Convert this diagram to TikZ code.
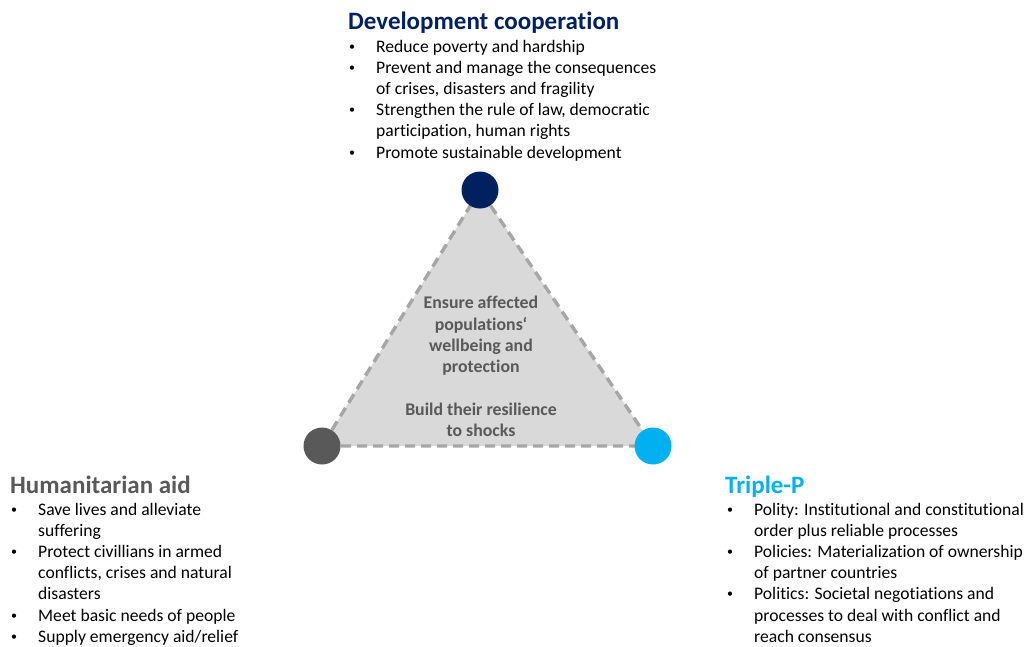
\documentclass[tikz,border=0pt]{standalone}
\usepackage{fontspec}
\setmainfont{Carlito}[Ligatures=NoCommon]
\usetikzlibrary{positioning}
\definecolor{navy}{HTML}{002060}
\definecolor{darkgr}{HTML}{595959}
\definecolor{skyb}{HTML}{00B0F0}
\definecolor{trifill}{HTML}{D9D9D9}
\definecolor{dashgr}{HTML}{A6A6A6}
\newcommand{\blt}{\makebox[28pt][l]{\hspace*{1pt}\raisebox{2pt}{\fontsize{12}{12}\selectfont\textbullet}}}
\tikzset{
  head/.style={inner sep=0pt,anchor=base west,font=\fontsize{25}{28}\selectfont\bfseries},
  items/.style={inner sep=0pt,anchor=base west,font=\fontsize{17.6}{21.2}\selectfont},
  mid/.style={inner sep=0pt,align=center,text=darkgr,font=\fontsize{17.8}{21.3}\selectfont\bfseries},
  vert/.style={circle,inner sep=0pt,minimum size=37pt}
}

\begin{document}
\begin{tikzpicture}[line cap=round,line join=round,x=1pt,y=-1pt]
\useasboundingbox (0,0) rectangle (1028,646);
\coordinate (top) at (480,190);
\coordinate (left) at (322,446);
\coordinate (right) at (653,446);
\fill[trifill] (top) -- (left) -- (right) -- cycle;
\draw[dashgr,line width=3.4pt,line cap=butt,dash pattern=on 10pt off 6pt] (top) -- (left) -- (right) -- cycle;
\node[vert,fill=navy] (dc) at (top) {};
\node[vert,fill=darkgr] (ha) at (left) {};
\node[vert,fill=skyb] (tp) at (right) {};
\node[mid] (goal) at (481,336) {Ensure affected\\populations‘\\wellbeing and\\protection};
\node[mid,below=27pt of goal] (resil) {Build their resilience\\to shocks};
% development cooperation
\node[head,text=navy] (dctitle) at (348,29) {Development cooperation};
\node[items] (dclist) at (348,52) {\begin{tabular}[t]{@{}l@{}l@{}}
\blt & Reduce poverty and hardship\\
\blt & Prevent and manage the consequences\\
 & of crises, disasters and fragility\\
\blt & Strengthen the rule of law, democratic\\
 & participation, human rights\\
\blt & Promote sustainable development
\end{tabular}};
% humanitarian aid
\node[head,text=darkgr] (hatitle) at (10,493) {Humanitarian aid};
\node[items] (halist) at (10,515) {\begin{tabular}[t]{@{}l@{}l@{}}
\blt & Save lives and alleviate\\
 & suffering\\
\blt & Protect civillians in armed\\
 & conflicts, crises and natural\\
 & disasters\\
\blt & Meet basic needs of people\\
\blt & Supply emergency aid/relief
\end{tabular}};
% triple-p
\node[head,text=skyb] (tptitle) at (725,493) {Triple-P};
\node[items] (tplist) at (726,515) {\begin{tabular}[t]{@{}l@{}l@{}}
\blt & Polity: Institutional and constitutional\\
 & order plus reliable processes\\
\blt & Policies: Materialization of ownership\\
 & of partner countries\\
\blt & Politics: Societal negotiations and\\
 & processes to deal with conflict and\\
 & reach consensus
\end{tabular}};
\end{tikzpicture}
\end{document}
